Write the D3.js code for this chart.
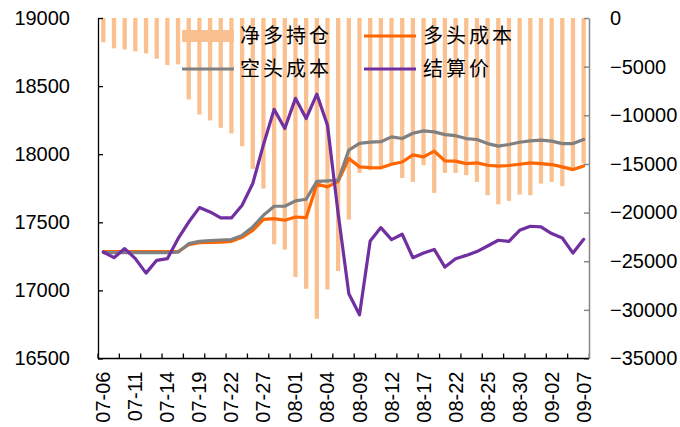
<!DOCTYPE html>
<html>
<head>
<meta charset="utf-8">
<script src="https://cdn.jsdelivr.net/npm/d3@7"></script>
<style>
  html, body { margin: 0; padding: 0; background: #fff; }
  svg { display: block; }
  text { font-family: "Liberation Sans", Arial, sans-serif; fill: #000; }
  .cjk { font-family: "Noto Sans CJK SC", sans-serif; }
</style>
</head>
<body>
<svg id="chart" width="680" height="427"></svg>
<script>
const dates = ["07-06","07-07","07-08","07-11","07-12","07-13","07-14","07-15","07-18","07-19",
  "07-20","07-21","07-22","07-25","07-26","07-27","07-28","07-29","08-01","08-02",
  "08-03","08-04","08-05","08-08","08-09","08-10","08-11","08-12","08-15","08-16",
  "08-17","08-18","08-19","08-22","08-23","08-24","08-25","08-26","08-29","08-30",
  "08-31","09-01","09-02","09-05","09-06","09-07"];

const netLong = [-2500,-3120,-3230,-3430,-3640,-4180,-4840,-4770,-8370,-9920,
  -10530,-11290,-11870,-13180,-15510,-17530,-23260,-23810,-26630,-27830,
  -30910,-27900,-26010,-20720,-15920,-15650,-15400,-15000,-16440,-16850,
  -15130,-17980,-15920,-15920,-16160,-16850,-18220,-19150,-18800,-18150,
  -18220,-17020,-16850,-17290,-15550,-14960];

const longCost = [17285,17285,17285,17285,17285,17285,17285,17285,17335,17350,
  17352,17355,17360,17390,17440,17522,17527,17515,17539,17534,
  17780,17760,17800,17968,17907,17902,17900,17926,17943,17995,
  17980,18022,17951,17949,17931,17936,17919,17912,17917,17926,
  17936,17931,17924,17907,17887,17914];

const shortCost = [17278,17278,17278,17278,17278,17278,17278,17280,17343,17360,
  17365,17370,17373,17404,17466,17552,17618,17618,17657,17669,
  17800,17804,17809,18030,18080,18088,18092,18127,18115,18154,
  18171,18164,18144,18136,18115,18108,18078,18059,18071,18088,
  18098,18103,18096,18078,18078,18108];

const settle = [17282,17240,17307,17233,17127,17221,17233,17380,17502,17608,
  17576,17532,17532,17625,17785,18070,18329,18189,18410,18262,
  18441,18213,17564,16976,16821,17363,17461,17373,17412,17240,
  17274,17301,17171,17233,17257,17285,17326,17368,17360,17441,
  17471,17466,17417,17385,17274,17375];

const leftTicks = [16500,17000,17500,18000,18500,19000];
const rightTicks = [-35000,-30000,-25000,-20000,-15000,-10000,-5000,0];
const labelEvery = 3;
const tickEvery = 2;

const legendItems = [
  {name:"净多持仓", type:"bar", color:"#FAC090"},
  {name:"多头成本", type:"line", color:"#FF6600"},
  {name:"空头成本", type:"line", color:"#808080"},
  {name:"结算价", type:"line", color:"#7030A0"}
];

const svg = d3.select("#chart");
const L = 98, R = 589, T = 18, B = 358.5;

const x = d3.scaleBand().domain(d3.range(dates.length)).range([L, R])
  .paddingInner(0.6).paddingOuter(0.3);
const cx = i => x(i) + x.bandwidth()/2;
const yL = d3.scaleLinear().domain([16500, 19000]).range([B, T]);
const yR = d3.scaleLinear().domain([-35000, 0]).range([B, T]);

// bars
svg.append("g").selectAll("rect").data(netLong).join("rect")
  .attr("x", (d,i) => x(i))
  .attr("width", x.bandwidth())
  .attr("y", yR(0))
  .attr("height", d => yR(d) - yR(0))
  .attr("fill", "#FAC090");

// lines
const line = d3.line().x((d,i) => cx(i)).y(d => yL(d));
[[longCost,"#FF6600"],[shortCost,"#808080"],[settle,"#7030A0"]].forEach(([arr,c]) => {
  svg.append("path").datum(arr).attr("d", line)
    .attr("fill","none").attr("stroke",c).attr("stroke-width",3.2)
    .attr("stroke-linejoin","round").attr("stroke-linecap","round");
});

// left axis
const gL = svg.append("g").attr("transform",`translate(${L},0)`)
  .call(d3.axisLeft(yL).tickValues(leftTicks).tickFormat(d3.format("d")).tickSizeInner(-5).tickSizeOuter(0).tickPadding(28));
gL.select(".domain").attr("stroke","#000").attr("stroke-width",1.3);
gL.selectAll(".tick line").attr("stroke","#000").attr("stroke-width",1.3);
gL.selectAll("text").attr("font-size","20px").attr("font-family","Liberation Sans, Arial, sans-serif").attr("fill","#000");

// right axis
const gR = svg.append("g").attr("transform",`translate(${R},0)`)
  .call(d3.axisRight(yR).tickValues(rightTicks).tickFormat(d3.format("d")).tickSizeInner(-5).tickSizeOuter(0).tickPadding(21));
gR.select(".domain").attr("stroke","#888").attr("stroke-width",1.5);
gR.selectAll(".tick line").attr("stroke","#888").attr("stroke-width",1.5);
gR.selectAll("text").attr("font-size","20px").attr("font-family","Liberation Sans, Arial, sans-serif").attr("fill","#000");

// bottom axis
const gB = svg.append("g").attr("transform",`translate(0,${B})`);
gB.append("line").attr("x1",L).attr("x2",R).attr("stroke","#000").attr("stroke-width",1.3);
const tickIdx = d3.range(0, dates.length + 1, tickEvery);
gB.selectAll(".tk").data(tickIdx).join("line")
  .attr("x1", i => i < dates.length ? x(i) - x.step()*x.paddingInner()/2 : R)
  .attr("x2", i => i < dates.length ? x(i) - x.step()*x.paddingInner()/2 : R)
  .attr("y1",0).attr("y2",-5).attr("stroke", i => i === dates.length ? "#888" : "#000").attr("stroke-width",1.3);
gB.selectAll(".lb").data(d3.range(0, dates.length, labelEvery)).join("text")
  .attr("transform", i => `translate(${cx(i)+7},13) rotate(-90)`)
  .attr("text-anchor","end")
  .attr("font-size","20px")
  .text(i => dates[i]);

// legend
const leg = svg.append("g");
const pos = [{sx:182, tx:240, y:36},{sx:364, tx:423, y:36},{sx:182, tx:240, y:69},{sx:364, tx:423, y:69}];
legendItems.forEach((it, k) => {
  const p = pos[k];
  if (it.type === "bar") {
    leg.append("rect").attr("x",p.sx).attr("y",p.y-6).attr("width",52).attr("height",12).attr("fill",it.color);
  } else {
    leg.append("line").attr("x1",p.sx).attr("x2",p.sx+52).attr("y1",p.y).attr("y2",p.y)
      .attr("stroke",it.color).attr("stroke-width",3.2);
  }
  leg.append("text").attr("class","cjk").attr("x",p.tx).attr("y",p.y+7)
    .attr("font-size","20px").attr("letter-spacing","3px").text(it.name);
});
</script>
</body>
</html>
